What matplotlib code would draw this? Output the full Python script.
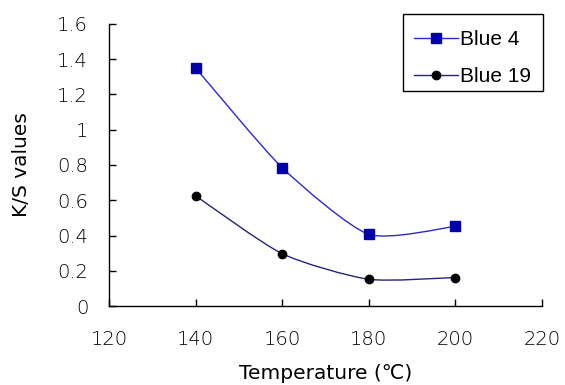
import numpy as np
import matplotlib
matplotlib.use('Agg')
import matplotlib.pyplot as plt
from matplotlib.path import Path
from matplotlib.patches import PathPatch, Rectangle
from matplotlib.lines import Line2D

temperature = [140, 160, 180, 200]
blue4 = [1.35, 0.785, 0.407, 0.452]
blue19 = [0.625, 0.297, 0.152, 0.162]

x_ticks = [120, 140, 160, 180, 200, 220]
y_ticks = [0, 0.2, 0.4, 0.6, 0.8, 1, 1.2, 1.4, 1.6]
y_tick_labels = ['0', '0.2', '0.4', '0.6', '0.8', '1', '1.2', '1.4', '1.6']

plt.rcParams['font.family'] = ['DejaVu Sans', 'Noto Sans CJK KR']
plt.rcParams['font.weight'] = 'light'


def smooth_path(xs, ys, k=1 / 9.0):
    # smoothed line like the spreadsheet one: bezier segments through the points
    pts = np.column_stack([xs, ys]).astype(float)
    ext = np.vstack([pts[0], pts, pts[-1]])
    verts = [pts[0]]
    codes = [Path.MOVETO]
    for i in range(1, len(ext) - 2):
        p0, p1, p2, p3 = ext[i - 1], ext[i], ext[i + 1], ext[i + 2]
        verts += [p1 + (p2 - p0) * k, p2 - (p3 - p1) * k, p2]
        codes += [Path.CURVE4] * 3
    return Path(verts, codes)


fig = plt.figure(figsize=(5.65, 3.85), dpi=100)
ax = fig.add_axes([0.193, 0.205, 0.766, 0.733])

ax.add_patch(PathPatch(smooth_path(temperature, blue4), facecolor='none',
                       edgecolor='#2a2ad0', lw=1.0))
ax.add_patch(PathPatch(smooth_path(temperature, blue19), facecolor='none',
                       edgecolor='#24247a', lw=1.0))
ax.plot(temperature, blue4, 's', color='#0000aa', markersize=7.5, zorder=3)
ax.plot(temperature, blue19, 'o', color='black', markersize=6, zorder=3)

ax.set_xlim(120, 220)
ax.set_ylim(0, 1.6)
ax.set_xticks(x_ticks)
ax.set_yticks(y_ticks)
ax.set_yticklabels(y_tick_labels)
ax.tick_params(direction='in', length=5, width=1, labelsize=14, colors='black')
ax.tick_params(axis='x', pad=17)
ax.tick_params(axis='y', pad=15)
for s in ['top', 'right']:
    ax.spines[s].set_visible(False)
for s in ['left', 'bottom']:
    ax.spines[s].set_linewidth(1.0)
    ax.spines[s].set_clip_on(False)

ax.set_xlabel('Temperature (\u2103)', fontsize=14.5, labelpad=11)
ax.set_ylabel('K/S values', fontsize=14.5, labelpad=19)

handles = [
    Line2D([], [], color='#2a2ad0', lw=1.0, marker='s', markersize=7.5,
           markerfacecolor='#0000aa', markeredgecolor='#0000aa'),
    Line2D([], [], color='#24247a', lw=1.0, marker='o', markersize=6,
           markerfacecolor='black', markeredgecolor='black'),
]
leg = fig.legend(handles, ['Blue 4', 'Blue 19'], loc='upper right',
                 bbox_to_anchor=(541 / 565, 1 - 20 / 385),
                 prop={'family': 'Liberation Sans', 'size': 15},
                 frameon=False, handlelength=2.1,
                 handletextpad=0.1, borderpad=0.5, labelspacing=0.85,
                 borderaxespad=0)
# legend frame drawn separately so the rows can sit where they are in the original
fig.add_artist(Rectangle((403 / 565, 1 - 91 / 385), 140 / 565, 77 / 385,
                         transform=fig.transFigure, fill=False,
                         edgecolor='black', lw=1.0))

fig.savefig('out.png', dpi=100)
